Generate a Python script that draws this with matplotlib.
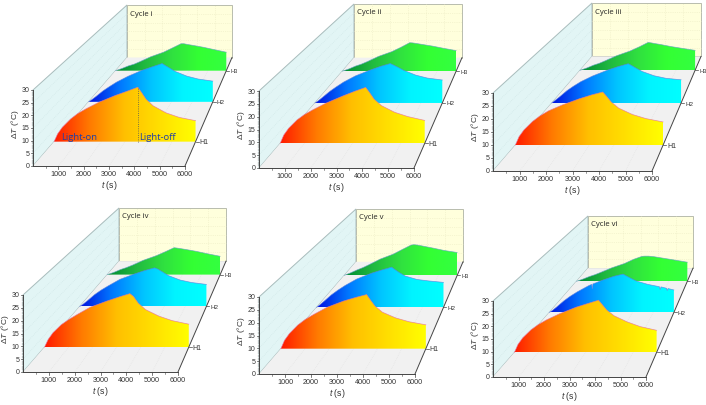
import matplotlib
matplotlib.use('Agg')
import matplotlib.pyplot as plt
import numpy as np
from matplotlib.colors import LinearSegmentedColormap
from matplotlib.patches import Polygon

plt.rcParams['font.family'] = ['Liberation Sans', 'DejaVu Sans']
plt.rcParams['mathtext.fontset'] = 'custom'
plt.rcParams['mathtext.rm'] = 'Liberation Sans'
plt.rcParams['mathtext.it'] = 'Liberation Sans:italic'

# time grid shared by the curves (s)
time_s = [0, 150, 350, 700, 1000, 1350, 1900, 2600, 3100, 3550, 3700, 3900, 4200, 4750, 5300, 6000]
series_names = ['H1', 'H2', 'H3']
cycle_names = ['Cycle i', 'Cycle ii', 'Cycle iii', 'Cycle iv', 'Cycle v', 'Cycle vi']
t_ticks = [1000, 2000, 3000, 4000, 5000, 6000]
dt_ticks = [0, 5, 10, 15, 20, 25, 30]

# delta T, one list per cycle and sensor
h1_i = [0, 3.3, 6.1, 9.6, 11.9, 13.9, 16.7, 19.6, 21.4, 23.1, 21.0, 18.0, 15.2, 12.2, 10.3, 8.9]
h2_i = [0, 1.0, 2.5, 5.3, 7.3, 9.5, 12.3, 15.3, 17.0, 18.5, 17.6, 16.4, 14.6, 12.4, 11.0, 10.0]
h3_i = [0, 0.5, 1.2, 2.6, 3.5, 5.0, 7.5, 10.0, 12.4, 14.6, 14.6, 14.2, 13.7, 12.7, 11.5, 10.0]
h1_ii = [0, 3.5, 6.3, 9.8, 12.0, 14.0, 16.8, 19.8, 21.8, 23.4, 21.4, 18.5, 15.8, 13.0, 11.2, 9.6]
h2_ii = [0, 1.0, 2.6, 5.5, 7.6, 9.9, 12.8, 15.6, 17.4, 18.7, 18.0, 17.0, 15.4, 13.2, 11.8, 10.9]
h3_ii = [0, 0.5, 1.2, 2.7, 3.7, 5.2, 7.8, 10.3, 12.7, 15.1, 15.0, 14.7, 14.2, 13.3, 12.2, 10.9]
h1_iii = [0, 3.5, 6.3, 9.8, 12.1, 14.2, 16.6, 19.2, 20.8, 22.0, 20.3, 17.8, 15.3, 12.7, 11.0, 9.6]
h2_iii = [0, 1.2, 2.8, 5.8, 7.9, 10.1, 12.8, 15.6, 17.3, 18.6, 17.8, 16.6, 14.9, 12.9, 11.7, 11.0]
h3_iii = [0, 0.5, 1.2, 2.7, 3.7, 5.2, 7.7, 10.2, 12.5, 14.8, 14.6, 14.2, 13.7, 12.6, 11.7, 10.6]
h1_iv = [0, 3.2, 6.0, 9.4, 11.5, 13.6, 16.7, 19.3, 21.0, 22.4, 21.2, 18.4, 15.7, 13.0, 11.1, 9.6]
h2_iv = [0, 1.0, 2.6, 5.6, 7.7, 9.8, 12.9, 15.5, 17.2, 18.4, 17.8, 16.6, 14.7, 12.6, 11.4, 10.5]
h3_iv = [0, 0.5, 1.2, 2.7, 3.7, 5.1, 7.6, 10.1, 12.3, 14.4, 14.2, 13.9, 13.4, 12.4, 11.2, 9.8]
h1_v = [0, 3.5, 6.3, 9.9, 12.2, 14.3, 17.3, 20.0, 21.5, 22.7, 20.5, 17.8, 15.3, 12.9, 11.3, 10.0]
h2_v = [0, 1.2, 2.9, 6.0, 8.2, 10.5, 13.6, 16.4, 18.0, 19.3, 18.2, 16.8, 15.0, 13.4, 12.7, 12.0]
h3_v = [0, 0.6, 1.4, 3.0, 4.2, 5.9, 8.7, 11.4, 14.0, 16.3, 16.5, 16.3, 15.7, 14.6, 13.4, 12.3]
h1_vi = [0, 3.4, 6.2, 9.6, 11.8, 13.8, 16.4, 19.2, 20.8, 22.2, 20.4, 18.0, 15.6, 13.0, 11.0, 9.4]
h3_vi = [0, 0.5, 1.2, 2.6, 3.6, 5.0, 7.3, 9.7, 12.0, 13.6, 13.7, 13.7, 13.4, 12.5, 11.6, 10.4]

# H2 of cycle vi has sensor dropouts, so it keeps its own time points
time_h2_vi = [0, 150, 350, 700, 1000, 1350, 1900, 2040, 2070, 2100, 2600, 3100, 3550, 3700, 3900,
              4200, 4750, 5300, 5340, 5380, 5420, 5650, 5680, 5720, 6000]
h2_vi = [0, 1.0, 2.6, 5.6, 7.8, 10.0, 13.0, 13.6, 11.4, 13.8, 15.8, 17.5, 18.6, 17.8, 16.7,
         15.2, 13.6, 12.5, 11.2, 12.4, 12.3, 11.7, 10.6, 11.6, 10.9]

cycle_series = [
    (h1_i, h2_i, h3_i), (h1_ii, h2_ii, h3_ii), (h1_iii, h2_iii, h3_iii),
    (h1_iv, h2_iv, h3_iv), (h1_v, h2_v, h3_v), (h1_vi, h2_vi, h3_vi),
]

# box corners of each panel in pixels:
# front x0, front x1, front floor y, front top y, back x0, back x1, back top y
panel_boxes = [
    (33, 185, 167, 91, 127, 232, 6),
    (259, 414, 169, 92, 354, 462, 5),
    (493, 652, 172, 94, 592, 701, 4),
    (23, 178, 373, 296, 119, 226, 209),
    (259, 415, 375, 298, 356, 463, 210),
    (493, 646, 378, 302, 588, 693, 217),
]

series_depth = [1 / 6, 1 / 2, 5 / 6]
cmaps = [
    LinearSegmentedColormap.from_list('h1', ['#ff1a00', '#ff7a00', '#ffc000', '#ffe000', '#ffff00']),
    LinearSegmentedColormap.from_list('h2', ['#0010e0', '#0078ff', '#00c4ff', '#00f4ff', '#00ffff']),
    LinearSegmentedColormap.from_list('h3', ['#008a30', '#20b840', '#30e040', '#33ff33', '#33ff40']),
]
edge_colors = ['#e8709a', '#5a80e0', '#60a0c0']
INK = '#333333'
AXIS = '#444444'


def make_proj(box):
    x0, x1, y0, ytop, bx0, bx1, bytop = box
    s_back = (bx1 - bx0) / (x1 - x0)
    vx = (bx0 - s_back * x0) / (1 - s_back)
    vy = (bytop - s_back * ytop) / (1 - s_back)
    k = 1 / s_back - 1

    def proj(t, d, z):
        t, d, z = np.asarray(t, float), np.asarray(d, float), np.asarray(z, float)
        px = x0 + (x1 - x0) * t / 6000
        py = y0 - (y0 - ytop) * z / 30
        s = 1 / (1 + k * d)
        return vx + s * (px - vx), vy + s * (py - vy)
    return proj


def quad(ax, proj, pts, **kw):
    xy = [(float(a), float(b)) for a, b in (proj(*p) for p in pts)]
    ax.add_patch(Polygon(xy, closed=True, **kw))


def draw_panel(ax, box, name, curves):
    proj = make_proj(box)
    # walls and floor
    quad(ax, proj, [(0, 0, 0), (0, 1, 0), (0, 1, 30), (0, 0, 30)],
         fc='#e2f5f5', ec='#a8bcbc', lw=0.7, zorder=1)
    quad(ax, proj, [(0, 1, 0), (6000, 1, 0), (6000, 1, 30), (0, 1, 30)],
         fc='#ffffdc', ec='#b8bcae', lw=0.7, zorder=1)
    quad(ax, proj, [(0, 0, 0), (6000, 0, 0), (6000, 1, 0), (0, 1, 0)],
         fc='#f1f1f1', ec='none', zorder=1)

    # faint grids
    for t in t_ticks[:-1]:
        xs, ys = proj([t, t], [0, 1], [0, 0])
        ax.plot(xs, ys, color='#e2e2e2', lw=0.5, ls=':', zorder=2)
        xs, ys = proj([t, t], [1, 1], [0, 30])
        ax.plot(xs, ys, color='#ecebc4', lw=0.5, ls=':', zorder=2)
    for z in dt_ticks[1:-1]:
        xs, ys = proj([0, 6000], [1, 1], [z, z])
        ax.plot(xs, ys, color='#ecebc4', lw=0.5, ls=':', zorder=2)
        xs, ys = proj([0, 0], [0, 1], [z, z])
        ax.plot(xs, ys, color='#cfe6e6', lw=0.5, ls=':', zorder=2)

    # filled curves, back one first
    for i in [2, 1, 0]:
        d = series_depth[i]
        vals = curves[i]
        times = time_h2_vi if vals is h2_vi else time_s
        xs, ys = proj(times, d, vals)
        bx, by = proj([6000, 0], d, [0, 0])
        poly = Polygon(list(zip(xs, ys)) + [(float(bx[0]), float(by[0])), (float(bx[1]), float(by[1]))],
                       closed=True, fc='none', ec='none', transform=ax.transData)
        ax.add_patch(poly)
        grad = np.linspace(0, 1, 256).reshape(1, -1)
        zo = 5 + (2 - i)
        im = ax.imshow(grad, cmap=cmaps[i], aspect='auto', zorder=zo,
                       extent=(float(bx[1]), float(bx[0]), float(by[0]), float(ys.min()) - 1))
        im.set_clip_path(poly)
        ax.plot(xs, ys, color=edge_colors[i], lw=0.5, alpha=0.8, zorder=zo + 0.1)

    # front axes
    xs, ys = proj([0, 6000], [0, 0], [0, 0])
    ax.plot(xs, ys, color=AXIS, lw=0.7, zorder=9)
    xs, ys = proj([6000, 6000], [0, 1], [0, 0])
    ax.plot(xs, ys, color=AXIS, lw=0.7, zorder=9)
    xs, ys = proj([0, 0], [0, 0], [0, 30])
    ax.plot(xs, ys, color=AXIS, lw=0.7, zorder=9)

    x0, x1, y0, ytop = box[:4]
    for t in t_ticks:
        px, py = proj(t, 0, 0)
        ax.plot([px, px], [py, py + 2.5], color=AXIS, lw=0.5, zorder=9)
        ax.text(px, py + 8, str(t), fontsize=5.2, color=INK, ha='center', va='center', zorder=10)
    for t in np.arange(500, 6000, 1000):
        px, py = proj(t, 0, 0)
        ax.plot([px, px], [py, py + 1.5], color=AXIS, lw=0.4, zorder=9)
    for z in dt_ticks:
        px, py = proj(0, 0, z)
        ax.plot([px - 2.5, px], [py, py], color=AXIS, lw=0.5, zorder=9)
        ax.text(px - 3.5, py, str(z), fontsize=5, color=INK, ha='right', va='center', zorder=10)
    for z in np.arange(1, 30):
        if z % 5:
            px, py = proj(0, 0, z)
            ax.plot([px - 1.3, px], [py, py], color=AXIS, lw=0.3, zorder=9)
    for i, lab in enumerate(series_names):
        px, py = proj(6000, series_depth[i], 0)
        ax.plot([px, px + 3], [py, py], color=AXIS, lw=0.5, zorder=9)
        ax.text(px + 4, py, lab, fontsize=[5, 4.5, 4][i], color=INK, ha='left', va='center', zorder=10)

    ax.text((x0 + x1) / 2, y0 + 19, r'$\mathit{t}$ (s)', fontsize=6.3, color=INK,
            ha='center', va='center', zorder=10)
    ax.text(x0 - 18, ytop + 33, r'$\Delta\mathit{T}$ (°C)', fontsize=6, color=INK,
            rotation=90, ha='center', va='center', zorder=10)
    ax.text(box[4] + 3, box[6] + 8, name, fontsize=5.6, color='#222222', family='Open Sans',
            ha='left', va='center', zorder=10)


fig = plt.figure(figsize=(7.06, 4.06), dpi=100)
ax = fig.add_axes([0, 0, 1, 1])

for box, name, curves in zip(panel_boxes, cycle_names, cycle_series):
    draw_panel(ax, box, name, curves)

# annotations only the first panel has
proj_i = make_proj(panel_boxes[0])
vx, vy = proj_i([3550, 3550], series_depth[0], [0, h1_i[9]])
ax.plot(vx, vy, color='#555555', lw=0.6, ls=':', zorder=8)
ax.text(61, 138, 'Light-on', fontsize=6.8, color='#1f3fa8', family='Open Sans', va='center', zorder=10)
ax.text(139, 138, 'Light-off', fontsize=6.8, color='#1f3fa8', family='Open Sans', va='center', zorder=10)

ax.set_xlim(0, 706)
ax.set_ylim(406, 0)
ax.axis('off')
fig.savefig('out.png', dpi=100)
